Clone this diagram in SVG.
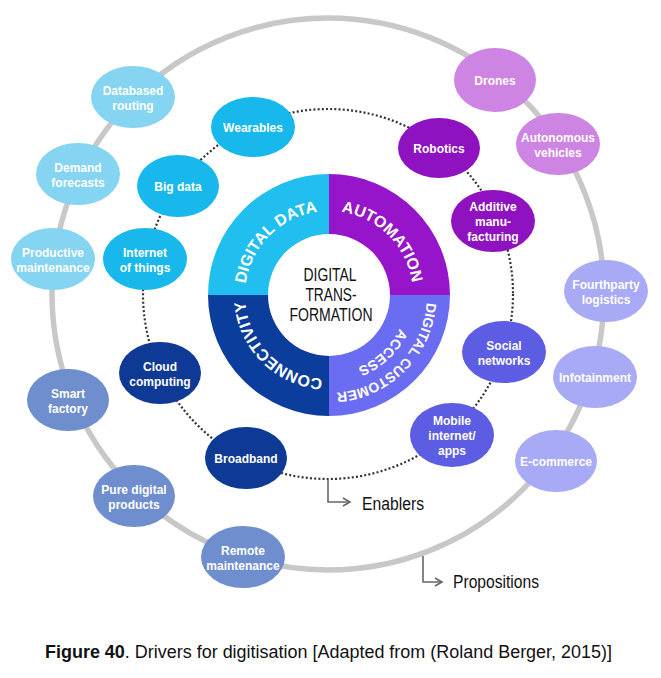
<svg xmlns="http://www.w3.org/2000/svg" width="661" height="678" viewBox="0 0 661 678">
<style>
.nt{font-family:"Liberation Sans",Arial,sans-serif;font-weight:bold;font-size:12px;fill:#fff;text-anchor:middle}
.rt{font-family:"Liberation Sans",Arial,sans-serif;font-weight:bold;font-size:16px;fill:#fff;text-anchor:middle}
.rs{font-family:"Liberation Sans",Arial,sans-serif;font-weight:bold;font-size:14px;fill:#fff;text-anchor:middle}
.ct{font-family:"Liberation Sans",Arial,sans-serif;font-size:17.5px;fill:#111;text-anchor:middle}
.lb{font-family:"Liberation Sans",Arial,sans-serif;font-size:18px;fill:#111}
.pc{fill:#84d4f2}.po{fill:#cd84e3}.pl{fill:#a8aaf6}.ps{fill:#6f8ecd}
.ec{fill:#19b8ec}.ep{fill:#8f12c0}.eb{fill:#5c5de2}.ed{fill:#0e3a95}
.arr{fill:none;stroke:#666;stroke-width:1.6}
</style>
<defs>
<marker id="chev" markerWidth="10" markerHeight="10" refX="8" refY="5" orient="auto" markerUnits="userSpaceOnUse">
<path d="M1,1 L8,5 L1,9" fill="none" stroke="#666" stroke-width="1.6"/>
</marker>
<path id="pDD" d="M245,295 A84,84 0 0 1 329,211"/>
<path id="pAU" d="M329,211 A84,84 0 0 1 413,295"/>
<path id="pCO" d="M329,379 A84,84 0 0 1 245,295"/>
<path id="pDC" d="M427,295 A98,98 0 0 1 329,393"/>
<path id="pAC" d="M407,295 A78,78 0 0 1 329,373"/>
</defs>
<rect width="661" height="678" fill="#fff"/>
<g id="connectors">
<circle cx="328" cy="294" r="276" fill="none" stroke="#c8c8c8" stroke-width="5.5"/>
<circle cx="328" cy="294" r="185" fill="none" stroke="#333" stroke-width="2.2" stroke-dasharray="2 2.2"/>
<path class="arr" d="M328,480 V502 H350" marker-end="url(#chev)"/>
<path class="arr" d="M423,556 V582 H442" marker-end="url(#chev)"/>
</g>
<g id="core">
<path fill="#21bff0" d="M208,295 A121,121 0 0 1 329,174 L329,234 A61,61 0 0 0 268,295 Z"/>
<path fill="#9614c9" d="M329,174 A121,121 0 0 1 450,295 L390,295 A61,61 0 0 0 329,234 Z"/>
<path fill="#6a6cf2" d="M450,295 A121,121 0 0 1 329,416 L329,356 A61,61 0 0 0 390,295 Z"/>
<path fill="#0b3d9c" d="M329,416 A121,121 0 0 1 208,295 L268,295 A61,61 0 0 0 329,356 Z"/>
<text class="rt"><textPath href="#pDD" startOffset="50%">DIGITAL DATA</textPath></text>
<text class="rt"><textPath href="#pAU" startOffset="50%">AUTOMATION</textPath></text>
<text class="rt"><textPath href="#pCO" startOffset="50%">CONNECTIVITY</textPath></text>
<text class="rs"><textPath href="#pDC" startOffset="50%">DIGITAL CUSTOMER</textPath></text>
<text class="rs"><textPath href="#pAC" startOffset="52%">ACCESS</textPath></text>
<text class="ct" x="330" y="281" textLength="53" lengthAdjust="spacingAndGlyphs">DIGITAL</text>
<text class="ct" x="331" y="301" textLength="51" lengthAdjust="spacingAndGlyphs">TRANS-</text>
<text class="ct" x="331" y="321" textLength="83" lengthAdjust="spacingAndGlyphs">FORMATION</text>
</g>
<g id="p-databased"><ellipse class="pc" cx="133" cy="97" rx="42" ry="31"/><text class="nt" x="133" y="95">Databased</text><text class="nt" x="133" y="110">routing</text></g>
<g id="p-demand"><ellipse class="pc" cx="78" cy="174" rx="42" ry="31"/><text class="nt" x="78" y="172">Demand</text><text class="nt" x="78" y="187">forecasts</text></g>
<g id="p-productive"><ellipse class="pc" cx="53" cy="259" rx="42" ry="31"/><text class="nt" x="53" y="257">Productive</text><text class="nt" x="53" y="272">maintenance</text></g>
<g id="p-drones"><ellipse class="po" cx="495" cy="80" rx="41" ry="32"/><text class="nt" x="495" y="85">Drones</text></g>
<g id="p-autonomous"><ellipse class="po" cx="558" cy="144" rx="42" ry="31"/><text class="nt" x="558" y="142">Autonomous</text><text class="nt" x="558" y="157">vehicles</text></g>
<g id="p-fourthparty"><ellipse class="pl" cx="606" cy="291" rx="42" ry="31"/><text class="nt" x="606" y="289">Fourthparty</text><text class="nt" x="606" y="304">logistics</text></g>
<g id="p-infotainment"><ellipse class="pl" cx="595" cy="377" rx="42" ry="31"/><text class="nt" x="595" y="382">Infotainment</text></g>
<g id="p-ecommerce"><ellipse class="pl" cx="556" cy="461" rx="41" ry="31"/><text class="nt" x="556" y="466">E-commerce</text></g>
<g id="p-smart"><ellipse class="ps" cx="68" cy="400" rx="41" ry="31"/><text class="nt" x="68" y="398">Smart</text><text class="nt" x="68" y="413">factory</text></g>
<g id="p-pure"><ellipse class="ps" cx="134" cy="496" rx="41" ry="31"/><text class="nt" x="134" y="494">Pure digital</text><text class="nt" x="134" y="509">products</text></g>
<g id="p-remote"><ellipse class="ps" cx="243" cy="557" rx="42" ry="31"/><text class="nt" x="243" y="555">Remote</text><text class="nt" x="243" y="570">maintenance</text></g>
<g id="e-wearables"><ellipse class="ec" cx="253" cy="127" rx="42" ry="30"/><text class="nt" x="253" y="132">Wearables</text></g>
<g id="e-bigdata"><ellipse class="ec" cx="178" cy="186" rx="41" ry="31"/><text class="nt" x="178" y="191">Big data</text></g>
<g id="e-iot"><ellipse class="ec" cx="145" cy="259" rx="42" ry="31"/><text class="nt" x="145" y="257">Internet</text><text class="nt" x="145" y="272">of things</text></g>
<g id="e-robotics"><ellipse class="ep" cx="439" cy="148" rx="41" ry="30"/><text class="nt" x="439" y="153">Robotics</text></g>
<g id="e-additive"><ellipse class="ep" cx="493" cy="221" rx="42" ry="31"/><text class="nt" x="493" y="211">Additive</text><text class="nt" x="493" y="226">manu-</text><text class="nt" x="493" y="241">facturing</text></g>
<g id="e-social"><ellipse class="eb" cx="504" cy="352" rx="42" ry="31"/><text class="nt" x="504" y="350">Social</text><text class="nt" x="504" y="365">networks</text></g>
<g id="e-mobile"><ellipse class="eb" cx="452" cy="435" rx="42" ry="32"/><text class="nt" x="452" y="425">Mobile</text><text class="nt" x="452" y="440">internet/</text><text class="nt" x="452" y="455">apps</text></g>
<g id="e-cloud"><ellipse class="ed" cx="160" cy="373" rx="41" ry="31"/><text class="nt" x="160" y="371">Cloud</text><text class="nt" x="160" y="386">computing</text></g>
<g id="e-broadband"><ellipse class="ed" cx="246" cy="458" rx="41" ry="31"/><text class="nt" x="246" y="463">Broadband</text></g>
<g id="labels">
<text class="lb" x="362" y="510" textLength="62" lengthAdjust="spacingAndGlyphs">Enablers</text>
<text class="lb" x="453" y="588" textLength="86" lengthAdjust="spacingAndGlyphs">Propositions</text>
<text class="lb" x="45" y="658" textLength="567" lengthAdjust="spacingAndGlyphs" style="font-size:17.5px"><tspan font-weight="bold">Figure 40</tspan>. Drivers for digitisation [Adapted from (Roland Berger, 2015)]</text>
</g>
</svg>
